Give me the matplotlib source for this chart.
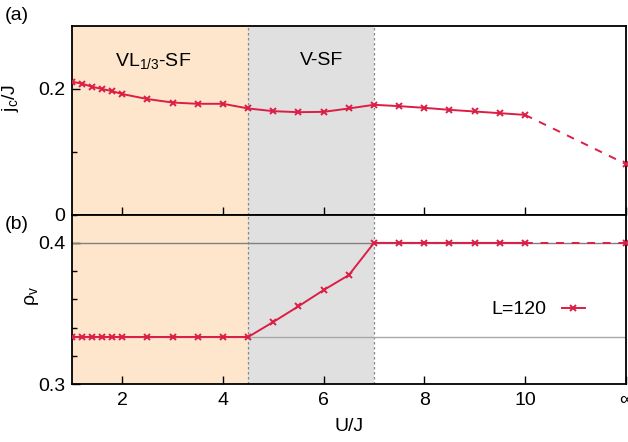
import numpy as np
import matplotlib
matplotlib.use("Agg")
import matplotlib.pyplot as plt
from matplotlib.ticker import MultipleLocator, FixedLocator

plt.rcParams['font.family'] = ['Liberation Sans', 'DejaVu Sans']
plt.rcParams['mathtext.default'] = 'regular'

# ---- data ----
U = [1.0, 1.2, 1.4, 1.6, 1.8, 2.0, 2.5, 3.0, 3.5, 4.0, 4.5, 5.0, 5.5, 6.0, 6.5,
     7.0, 7.5, 8.0, 8.5, 9.0, 9.5, 10.0]
jc = [0.211, 0.208, 0.203, 0.1995, 0.196, 0.1915, 0.1835, 0.178, 0.176, 0.176,
      0.1686, 0.1643, 0.1627, 0.1632, 0.1686, 0.1744, 0.1723, 0.1696, 0.1664,
      0.1638, 0.1611, 0.1584]
rho = [1/3, 1/3, 1/3, 1/3, 1/3, 1/3, 1/3, 1/3, 1/3, 1/3, 1/3, 0.344, 0.3551,
       0.3666, 0.3772, 0.4, 0.4, 0.4, 0.4, 0.4, 0.4, 0.4]
U_inf_pos = 12.0          # axis position standing for U = infinity
jc_inf = 0.0806
rho_inf = 0.4
xtick_pos = [2, 4, 6, 8, 10, 12]
xtick_labels = ['2', '4', '6', '8', '10', '∞']
phase_bounds = [1.0, 4.5, 7.0]
phase_names = ['VL$_{1/3}$-SF', 'V-SF']
ref_lines = [0.4, 1/3]

red = '#dc1e46'
fs = 14

fig = plt.figure(figsize=(6.28, 4.42), dpi=100)
ax1 = fig.add_axes([0.1146, 0.5143, 0.8817, 0.4276])
ax2 = fig.add_axes([0.1146, 0.1312, 0.8817, 0.3831])

for ax in (ax1, ax2):
    ax.axvspan(phase_bounds[0], phase_bounds[1], color='#fde6cb', lw=0, zorder=0)
    ax.axvspan(phase_bounds[1], phase_bounds[2], color='#e0e0e0', lw=0, zorder=0)
    for b in phase_bounds[1:]:
        ax.axvline(b, color='#888888', ls=(0, (2, 2)), lw=0.9, zorder=1)
    ax.set_xlim(1, 12)
    ax.xaxis.set_major_locator(FixedLocator(xtick_pos))
    ax.tick_params(direction='in', labelsize=fs, length=5.5, width=1,
                   top=False, right=False)
    ax.tick_params(axis='y', pad=5)
    ax.tick_params(axis='x', pad=6)
    ax.tick_params(which='minor', direction='in', length=3.5, width=1)
    for s in ax.spines.values():
        s.set_linewidth(1.3)

# top panel
ax1.plot(U, jc, color=red, lw=1.4, marker='x', ms=4.5, mew=1.4, zorder=3)
ax1.plot([U[-1], U_inf_pos], [jc[-1], jc_inf], color=red, lw=1.4,
         ls=(0, (4, 4)), zorder=3)
ax1.plot([U_inf_pos], [jc_inf], color=red, marker='x', ms=4.5, mew=1.4,
         clip_on=False, zorder=3)
ax1.set_ylim(0, 0.3)
ax1.yaxis.set_major_locator(FixedLocator([0, 0.2]))
ax1.yaxis.set_minor_locator(FixedLocator([0.1]))
ax1.set_yticklabels(['0', '0.2'])
ax1.set_xticklabels([])
ax1.xaxis.set_ticks_position('bottom')
ax1.set_ylabel('j$_c$/J', fontsize=fs)
ax1.yaxis.set_label_coords(-0.092, 0.62)
ax1.text(2.62, 0.244, phase_names[0], fontsize=fs, ha='center', va='center')
ax1.text(5.95, 0.244, phase_names[1], fontsize=fs, ha='center', va='center')
fig.text(0.008, 0.965, '(a)', fontsize=fs, va='center')

# bottom panel
for r, c in zip(ref_lines, ['#808080', '#a8a8a8']):
    ax2.axhline(r, color=c, lw=1.0, zorder=2)
ln, = ax2.plot(U, rho, color=red, lw=1.4, marker='x', ms=4.5, mew=1.4,
               zorder=3, label='L=120')
ax2.plot([U[-1], U_inf_pos], [rho[-1], rho_inf], color=red, lw=1.4,
         ls=(0, (4, 4)), zorder=3)
ax2.plot([U_inf_pos], [rho_inf], color=red, marker='x', ms=4.5, mew=1.4,
         clip_on=False, zorder=3)
ax2.set_ylim(0.3, 0.42)
ax2.yaxis.set_major_locator(FixedLocator([0.3, 0.4]))
ax2.yaxis.set_minor_locator(MultipleLocator(0.02))
ax2.set_yticklabels(['0.3', '0.4'])
ax2.set_xticklabels(xtick_labels)
ax2.set_xlabel('U/J', fontsize=fs, labelpad=6)
ax2.set_ylabel('ρ$_v$', fontsize=fs)
ax2.yaxis.set_label_coords(-0.056, 0.52)
ax2.legend(handles=[ln], loc='center', bbox_to_anchor=(0.842, 0.44),
           frameon=False, markerfirst=False, fontsize=fs, handlelength=1.2,
           handletextpad=0.8)
fig.text(0.008, 0.493, '(b)', fontsize=fs, va='center')

fig.savefig('out.png', dpi=100)
